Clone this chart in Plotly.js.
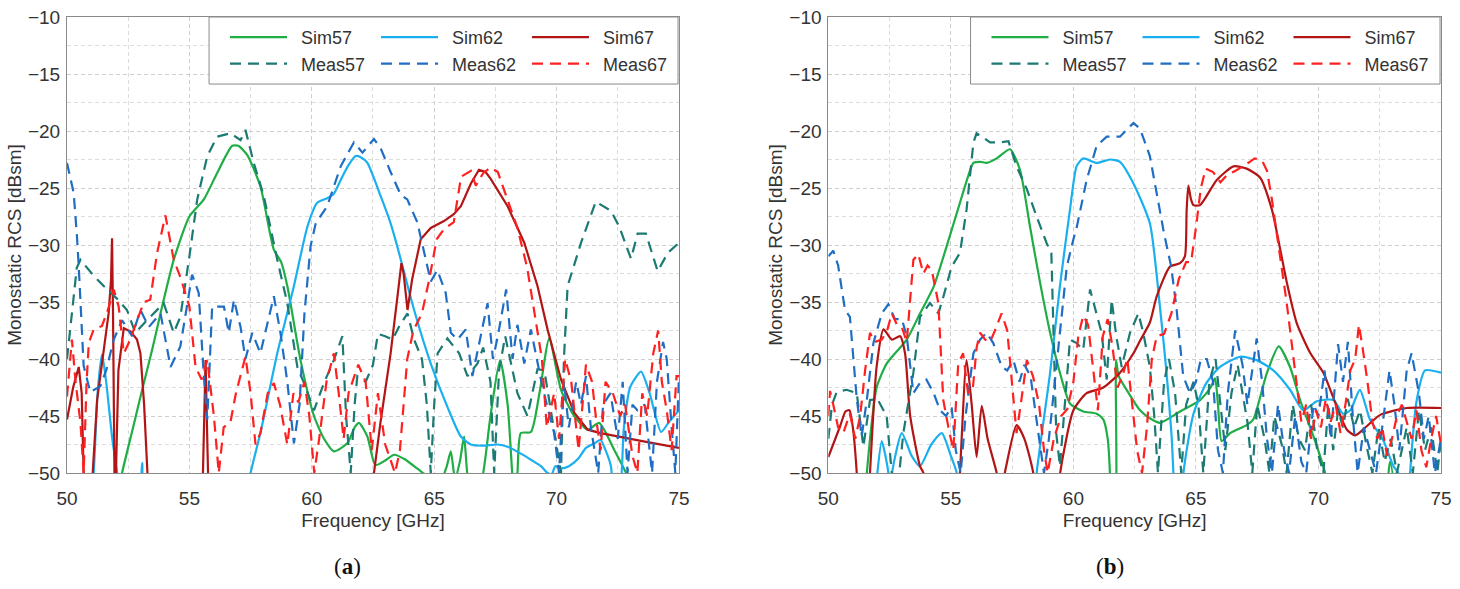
<!DOCTYPE html>
<html>
<head>
<meta charset="utf-8">
<script src="https://cdn.plot.ly/plotly-3.0.1.min.js"></script>
<style>
html,body{margin:0;padding:0;background:#fff;}
#chart{width:1460px;height:589px;}
</style>
</head>
<body>
<div id="chart"></div>
<script>
// ---------- Panel (a) ----------
const a_sim57_f = [52.0,52.25,52.7,53.14,53.5,53.82,54.36,55.0,55.59,56.13,56.75,57.0,57.36,57.9,58.45,58.75,59.0,59.54,60.09,60.5,60.9,61.45,61.75,61.93,62.27,62.6,63.0,63.36,63.8,64.3,64.86,65.2,65.5,65.68,65.85,66.05,66.22,66.35,66.6,67.0,67.3,67.69,68.0,68.27,68.4,68.54,68.95,69.3,69.7,70.18,70.72,71.27,71.74,72.36,72.84,73.2];
const a_sim57_v = [-53,-50,-46,-42.1,-39,-36.0,-31.3,-27.5,-26.0,-23.7,-21.3,-21.3,-22.1,-24.85,-30.4,-31.5,-33.6,-40.1,-45.0,-47,-48.1,-47.4,-46,-45.6,-46.8,-49.3,-48.9,-48.4,-48.8,-49.6,-50.5,-51,-49.5,-48.1,-50.5,-49,-46.8,-50,-53,-50,-45,-40.1,-44,-52,-50,-46.5,-46.4,-43,-38.2,-42.7,-45.0,-46.2,-45.6,-48.0,-50,-52];

const a_sim62_f = [50.95,51.09,51.25,51.43,51.6,51.85,52.05,52.2,52.9,53.07,53.25,57.3,57.5,57.9,58.59,59.27,59.82,60.22,60.63,60.9,61.18,61.5,61.79,62.0,62.27,62.81,63.22,63.49,64.18,64.86,65.54,66.09,66.5,67.0,67.59,68.0,68.54,69.0,69.36,69.63,69.8,69.95,70.2,70.5,70.9,71.2,71.54,71.8,72.0,72.22,72.35,72.55,72.75,73.0,73.45,73.8,74.27,74.6,75.0];
const a_sim62_v = [-53,-50,-43,-39.6,-42,-47,-50,-53,-53,-49.1,-53,-53,-50,-46.5,-39.5,-33.6,-28.4,-26.3,-25.9,-25.5,-24.3,-23,-22.2,-22.3,-22.8,-25.7,-28.1,-30.1,-35.7,-40.4,-44.2,-46.8,-47.5,-47.6,-47.5,-47.7,-48.3,-48.9,-49.4,-50,-50.1,-49.4,-49.6,-49.4,-48.7,-47.8,-47.4,-47.1,-48,-49.4,-52,-52,-46,-42.5,-41.1,-43,-46.4,-45.5,-44.5];

const a_sim67_f = [50.0,50.25,50.48,50.6,50.68,50.75,51.0,51.05,51.23,51.5,51.7,51.8,51.84,51.88,51.93,51.96,52.0,52.1,52.32,52.6,52.86,53.0,53.15,53.3,53.4,55.5,55.58,55.66,55.74,55.82,62.2,62.54,62.81,63.22,63.5,63.66,63.75,63.91,64.1,64.45,64.86,65.4,65.8,66.09,66.5,66.83,67.1,67.31,68.0,68.68,69.22,69.63,70.18,70.72,71.27,71.8,73.5,75.0];
const a_sim67_v = [-45.3,-42.5,-40.7,-43,-50,-55,-55,-50,-43.6,-39,-36,-33,-29.4,-36,-50,-55,-50,-41,-37.3,-37.6,-38.3,-39.5,-44,-50,-55,-55,-48,-40.1,-48,-55,-55,-50,-45.5,-39.5,-34.5,-31.6,-32.5,-35.7,-33,-29.5,-28.5,-27.9,-27.3,-26.6,-24.6,-23.4,-23.6,-24.2,-26.6,-29.8,-33.6,-37.4,-41.8,-44.7,-46.2,-46.5,-47.2,-47.8];

const a_meas57_f = [50.0,50.2,50.4,50.55,51.09,51.5,52.04,52.45,52.79,53.27,53.95,54.36,54.63,55.0,55.32,55.73,56.13,56.68,57.09,57.29,57.63,58.04,58.59,59.0,59.41,59.68,60.09,60.5,60.9,61.25,61.4,61.59,61.75,61.86,62.2,62.5,62.7,63.0,63.3,63.6,63.91,64.18,64.5,64.7,64.86,65.0,65.14,65.54,66.02,66.36,66.77,67.0,67.3,67.45,67.65,67.9,68.1,68.4,68.81,69.0,69.22,69.5,69.8,70.0,70.18,70.3,70.45,71.0,71.6,72.22,72.56,73.04,73.31,73.65,74.13,74.54,75.0];
const a_meas57_v = [-40.0,-36,-32,-31.3,-32.7,-33.6,-34.7,-35.7,-37.7,-36.6,-35.1,-37.7,-36.3,-31.0,-26.0,-22.2,-20.5,-20.2,-20.8,-19.9,-22.8,-25.7,-31.3,-35.1,-40.7,-42.1,-44.5,-42.1,-40.1,-38.0,-45,-50,-44,-41.5,-42,-40.5,-37.8,-38.0,-38.3,-37,-36.0,-38.3,-40,-44,-50,-44,-39.5,-38.2,-39.5,-41.5,-40.4,-39,-42,-50,-41,-38,-40,-43,-45.0,-43,-40.9,-41,-45,-48,-50,-40,-33.6,-29.8,-26.2,-27.0,-28.4,-31.2,-29.0,-29.0,-32.3,-30.7,-29.8];

const a_meas62_f = [50.0,50.27,50.4,50.48,50.68,50.95,51.36,51.6,51.91,52.25,52.66,53.0,53.34,53.82,54.23,54.63,55.11,55.38,55.59,55.73,55.93,56.41,56.61,56.82,57.09,57.29,57.57,57.9,58.45,58.72,59.0,59.27,59.5,59.7,59.95,60.16,60.63,61.18,61.72,62.07,62.54,62.81,63.22,63.63,63.9,64.31,64.86,65.13,65.47,65.68,65.95,66.29,66.56,66.9,67.18,67.4,67.6,67.94,68.2,68.4,68.68,68.95,69.36,69.6,69.9,70.1,70.3,70.5,70.8,71.0,71.2,71.4,71.7,71.9,72.2,72.5,72.7,72.9,73.1,73.3,73.6,73.9,74.1,74.35,74.5,74.7,74.85,75.0];
const a_meas62_v = [-22.8,-25.4,-29,-31.9,-40.6,-42.9,-42.4,-41,-38.3,-36.6,-38.0,-35.7,-37.2,-36.0,-40.7,-38.9,-32.6,-34.2,-41.5,-45.3,-35.4,-35.4,-37.7,-34.8,-37.2,-40.0,-37.7,-39.5,-34.5,-37.7,-42,-47.4,-44,-36,-30.1,-28.1,-26.6,-23.1,-21.0,-21.9,-20.7,-21.5,-23.6,-25.6,-26.0,-28.0,-33.2,-32.2,-34.2,-37.7,-38.3,-37.4,-41.5,-38,-35.1,-40,-38,-33.9,-40,-37,-40.4,-37.4,-41.8,-44,-46.5,-50,-42,-46,-42,-44,-41.5,-46,-50,-44,-43,-47,-42,-50,-44,-44.5,-44,-50,-42,-38.5,-40,-46,-50,-41.5];

const a_meas67_f = [50.0,50.2,50.35,50.55,50.68,50.8,50.89,51.09,51.43,51.7,51.91,52.11,52.32,52.52,52.8,53.14,53.4,53.68,54.02,54.36,54.63,55.0,55.25,55.5,55.73,56.0,56.2,56.4,56.68,56.9,57.29,57.5,57.7,57.9,58.2,58.45,58.7,59.0,59.25,59.45,59.7,59.9,60.1,60.3,60.6,60.9,61.1,61.3,61.5,61.9,62.2,62.45,62.7,63.0,63.4,63.6,63.9,64.15,64.5,64.8,65.1,65.4,65.8,66.1,66.5,66.7,67.0,67.3,67.6,68.0,68.4,68.8,69.1,69.4,69.6,69.9,70.1,70.35,70.6,70.9,71.2,71.45,71.6,71.8,72.0,72.3,72.6,72.8,73.1,73.3,73.5,73.7,73.95,74.15,74.3,74.5,74.7,74.9,75.0];
const a_meas67_v = [-43.3,-38.3,-42,-45.6,-50,-42,-38.6,-37.4,-37.1,-35.5,-33.9,-35.4,-39.5,-38.6,-37,-35.0,-34.8,-30.7,-27.4,-31.3,-32.8,-35.4,-40.7,-41.8,-40.1,-45,-50,-46,-45.5,-43,-39.8,-43,-47.5,-46.5,-43,-42.1,-44,-47.5,-43,-43.8,-42,-45,-50,-47,-42,-39.5,-43,-47,-43,-40.5,-42,-48,-43,-47.5,-50,-48,-40,-37.5,-36,-33,-29.5,-28.6,-28,-24,-23.5,-24.8,-23.7,-23.2,-23.6,-26,-28.5,-32,-36,-40,-46,-43,-47,-40,-42,-48,-40.5,-42,-45,-48,-42,-43,-45,-44,-48.5,-50,-43,-45,-39.5,-37.5,-42,-44.5,-48,-41.5,-41.5];

// ---------- Panel (b) ----------
const b_sim57_f = [51.45,51.57,51.75,51.97,52.38,53.2,53.74,54.29,54.83,55.37,55.7,55.92,56.2,56.46,56.87,57.41,57.82,58.23,58.64,59.05,59.45,59.86,60.4,60.95,61.22,61.4,61.49,61.55,61.68,61.74,61.85,62.17,62.72,63.12,63.53,64.35,65.17,65.6,65.78,65.9,66.05,66.4,67.07,67.34,67.9,68.38,68.84,69.25,69.8,70.27,70.4,72.6,72.92,73.2];
const b_sim57_v = [-53,-50,-46,-42.5,-40.4,-38.3,-36.0,-33.7,-30.1,-26.3,-24,-22.8,-22.7,-22.8,-22.4,-21.6,-23.4,-28.4,-33.3,-37.7,-41.2,-43.9,-44.6,-44.8,-45.3,-47,-50,-56,-56,-40.1,-41.5,-42.7,-44.5,-45.2,-45.6,-44.6,-43.6,-42.5,-41.7,-44,-47.2,-46.5,-45.8,-45.3,-41.2,-38.9,-40.7,-43.6,-46.8,-50,-53,-53,-49.0,-53];

const b_sim62_f = [51.9,52.0,52.18,52.45,52.52,52.55,52.6,53.0,53.4,53.74,54.2,54.63,55.0,55.24,55.35,58.4,58.5,59.05,59.45,59.86,60.13,60.4,60.95,61.49,61.9,62.45,63.12,63.53,63.8,64.0,64.08,64.15,64.4,64.49,64.9,65.43,65.98,66.8,67.48,68.16,68.84,69.38,69.93,70.61,71.0,71.3,71.69,72.1,72.64,73.06,73.26,73.35,73.65,73.74,74.01,74.35,75.0];
const b_sim62_v = [-53,-50,-47.2,-50,-53,-53,-50,-46.5,-48.5,-49.4,-47.5,-46.5,-48.5,-50,-53,-53,-50,-41.2,-33.6,-26.9,-23.1,-22.4,-22.8,-22.5,-22.7,-24.6,-28.1,-35.4,-41.2,-46.5,-50,-54,-54,-50,-44.8,-42.1,-40.7,-39.8,-40.1,-41.0,-42.7,-44.5,-43.7,-43.6,-44.8,-44.5,-42.7,-45.3,-47.1,-49.4,-50,-54,-54,-50,-43.6,-41.0,-41.2];

const b_sim67_f = [50.0,50.48,50.7,50.86,51.0,51.16,51.25,51.6,51.7,51.97,52.25,52.59,52.93,53.13,53.34,53.74,53.88,54.0,55.25,55.37,55.64,55.85,56.05,56.26,56.5,56.87,57.0,57.2,57.68,58.0,58.36,58.5,59.3,59.46,60.0,60.54,61.22,61.9,62.45,62.72,63.12,63.4,63.94,64.35,64.55,64.62,64.69,64.8,64.9,65.17,65.85,66.53,67.07,67.62,68.1,68.44,68.71,69.12,69.67,70.2,70.75,71.16,71.5,71.97,72.52,73.6,75.0];
const b_sim67_v = [-48.6,-45.9,-44.6,-44.5,-46,-50,-54,-54,-50,-40.7,-37.4,-38.3,-38.0,-39.5,-45.0,-49.4,-50,-54,-54,-50,-40.1,-44,-48.6,-44.1,-47,-50,-52,-50,-45.8,-47,-50,-54,-54,-50,-44.5,-43.0,-42.5,-41.2,-39.5,-38.4,-36.8,-34.5,-31.9,-31.6,-31.0,-27,-24.8,-26,-26.5,-26.5,-24.3,-23.1,-23.3,-24.1,-26.9,-30.4,-33.3,-36.9,-39.5,-41.2,-44.2,-46.2,-46.7,-45.9,-44.9,-44.3,-44.3];

const b_meas57_f = [50.0,50.15,50.34,50.75,51.16,51.43,51.7,52.0,52.38,52.59,52.8,53.06,53.47,53.74,54.15,54.49,54.7,55.03,55.37,55.64,55.92,56.05,56.33,56.6,57.0,57.35,57.68,58.1,58.5,58.9,59.1,59.18,59.3,59.45,59.66,59.86,60.13,60.4,60.68,60.95,61.15,61.36,61.56,61.75,61.97,62.31,62.65,62.85,63.12,63.3,63.45,63.7,63.9,64.15,64.4,64.6,64.9,65.1,65.3,65.55,65.8,66.0,66.2,66.45,66.7,66.9,67.1,67.3,67.5,67.8,68.0,68.2,68.5,68.7,68.95,69.2,69.45,69.7,69.95,70.2,70.4,70.6,70.8,71.0,71.2,71.45,71.7,71.95,72.2,72.45,72.7,72.95,73.2,73.4,73.6,73.85,74.1,74.35,74.6,74.85,75.0];
const b_meas57_v = [-47,-44,-42.9,-42.7,-43.0,-47.7,-43.6,-43.5,-45.0,-50,-52,-46.5,-41.2,-36.3,-35.1,-36.0,-34.5,-31.9,-30.7,-26.9,-21.0,-20.2,-20.6,-21.0,-21.0,-20.9,-23.1,-25.1,-27.5,-29.8,-30.7,-37.7,-46.5,-49.4,-43.6,-38.3,-38.6,-39.2,-33.9,-36.0,-37.7,-41.8,-34.8,-38,-40.7,-37.7,-36.0,-37.7,-40.7,-45,-50,-42,-40,-43,-50,-44,-42,-44,-50,-42,-40,-44,-48,-43,-40.5,-43,-45.5,-50,-44,-47,-50,-45,-47.5,-50,-44,-47,-48,-44,-48,-50,-44,-48,-44.5,-46,-43.5,-46,-44.5,-47.5,-50,-46,-49,-47,-50,-48,-46,-50,-44.5,-48,-46,-50,-47];

const b_meas62_f = [50.0,50.2,50.4,50.68,50.88,51.16,51.36,51.57,51.84,52.18,52.45,52.72,53.0,53.2,53.47,53.74,54.0,54.3,54.56,54.8,55.03,55.2,55.4,55.6,55.92,56.19,56.46,56.73,57.08,57.3,57.55,57.8,58.0,58.25,58.57,58.8,59.0,59.3,59.55,59.73,60.0,60.13,60.54,60.95,61.36,61.9,62.45,62.72,63.12,63.4,63.7,63.99,64.2,64.48,64.76,65.0,65.2,65.44,65.7,65.9,66.1,66.3,66.6,66.9,67.1,67.48,67.7,67.9,68.1,68.35,68.6,68.8,69.05,69.3,69.5,69.8,70.0,70.25,70.5,70.8,71.0,71.2,71.4,71.6,71.85,72.1,72.35,72.6,72.9,73.1,73.3,73.6,73.8,74.1,74.3,74.5,74.75,75.0];
const b_meas62_v = [-31,-30.5,-31.8,-35.7,-36.3,-43.5,-46.8,-43.6,-38.6,-36.0,-35.2,-36.5,-36.5,-38,-43.0,-42.1,-41.8,-43,-44.5,-45,-44.2,-48,-50,-45,-39.5,-38.3,-37.7,-38.6,-40.7,-41,-40.1,-42,-40.5,-41.5,-46.5,-50,-47,-41,-36,-31.9,-29.5,-28.5,-24.3,-21.3,-20.5,-20.5,-19.3,-19.8,-22.2,-25.4,-29,-31.9,-35.4,-41.5,-43,-42,-40,-40.0,-42,-48,-50,-43,-37.5,-40.5,-44,-38.2,-42,-47,-50,-44,-48,-50,-45,-49,-50,-44,-45,-41,-47,-38.7,-42,-38.5,-45,-50,-46,-48,-50,-46,-41,-44,-48,-41,-39.5,-43,-47,-45,-50,-47];

const b_meas67_f = [50.0,50.07,50.2,50.4,50.61,50.88,51.1,51.3,51.5,51.7,51.9,52.18,52.4,52.59,52.8,53.0,53.2,53.47,53.67,53.88,54.05,54.22,54.49,54.69,54.9,55.1,55.3,55.5,55.7,55.9,56.05,56.19,56.4,56.6,56.8,57.07,57.3,57.5,57.68,57.85,58.1,58.35,58.6,58.8,58.95,59.2,59.5,59.75,60.0,60.2,60.4,60.6,60.8,61.0,61.2,61.4,61.6,61.8,62.0,62.2,62.4,62.6,62.8,63.0,63.2,63.4,63.7,64.0,64.3,64.6,64.8,65.0,65.2,65.4,65.7,66.0,66.3,66.6,67.0,67.4,67.7,67.9,68.1,68.3,68.5,68.7,68.9,69.1,69.3,69.5,69.7,69.9,70.1,70.3,70.5,70.7,70.9,71.1,71.3,71.5,71.65,71.8,72.0,72.2,72.4,72.6,72.8,73.0,73.2,73.4,73.6,73.8,74.0,74.2,74.4,74.6,74.8,75.0];
const b_meas67_v = [-45,-42.8,-44,-46,-46.5,-44.8,-47,-45,-41,-37.7,-38.5,-38.3,-37.5,-36.0,-37,-37.2,-38.5,-31.3,-30.8,-32.5,-31.8,-32.2,-35.1,-43.6,-46,-48,-40.4,-39.5,-43,-42.5,-39,-37.7,-38.3,-38.5,-37.5,-36.0,-37.5,-42,-46.5,-44,-40.1,-41.5,-44,-48,-50,-47,-45,-44.4,-42,-38,-36.2,-37,-41,-44.5,-38,-36.5,-39,-42.5,-41.5,-40,-44,-48,-50,-46,-40,-38,-37.8,-36,-33,-31.5,-31.5,-28.5,-25,-23.3,-23.6,-24.5,-23.8,-23.5,-23.0,-22.4,-22.6,-23.5,-26,-29,-32,-35,-38.5,-42,-45.5,-44,-47,-44.5,-46,-43.5,-45.5,-44,-46.5,-44,-41,-40,-37,-39,-42,-45.5,-47,-46,-48.5,-47,-45,-44,-45.5,-47,-44.5,-48,-49.5,-47,-45,-47.5];

// ---------- Styling ----------
const names = ['Sim57','Sim62','Sim67','Meas57','Meas62','Meas67'];
const colors = ['#1fad45','#1ab0ef','#b21515','#1b7a72','#1f6ec4','#ff2020'];
const groups = ['57','62','67','57','62','67'];
const panelA = [[a_sim57_f,a_sim57_v],[a_sim62_f,a_sim62_v],[a_sim67_f,a_sim67_v],[a_meas57_f,a_meas57_v],[a_meas62_f,a_meas62_v],[a_meas67_f,a_meas67_v]];
const panelB = [[b_sim57_f,b_sim57_v],[b_sim62_f,b_sim62_v],[b_sim67_f,b_sim67_v],[b_meas57_f,b_meas57_v],[b_meas62_f,b_meas62_v],[b_meas67_f,b_meas67_v]];

const traces = [];
function addPanel(series, xa, ya, leg, pfx, sharp){
  series.forEach((s,i)=>{
    const isSim = i < 3;
    const useSpline = isSim && sharp.indexOf(i) < 0;
    traces.push({
      x: s[0], y: s[1], type:'scatter', mode:'lines', name: '\u2002' + names[i],
      xaxis: xa, yaxis: ya, legend: leg, legendgroup: pfx+groups[i],
      line: {color: colors[i], width: 2.2, dash: isSim ? 'solid' : '11px,7px',
             shape: useSpline ? 'spline' : 'linear', smoothing: 0.6},
      hoverinfo:'skip'
    });
  });
}
addPanel(panelA,'x','y','legend','a',[2]);
addPanel(panelB,'x2','y2','legend2','b',[]);

const fontFam = '"Liberation Sans", Arial, Helvetica, sans-serif';
function xax(domain, anchor){
  return {domain: domain, anchor: anchor, range:[50,75], dtick:5, tick0:50,
    showgrid:true, gridcolor:'#cfcfcf', griddash:'4px,3px', gridwidth:1,
    minor:{dtick:2.5, showgrid:true, gridcolor:'#dcdcdc', griddash:'4px,3px', gridwidth:1},
    showline:true, mirror:true, linecolor:'#8a8a8a', linewidth:1,
    ticks:'', zeroline:false, ticklabelstandoff:8,
    tickfont:{family:fontFam, size:19, color:'#333'},
    title:{text:'Frequency [GHz]', font:{family:fontFam, size:19, color:'#333'}, standoff:5}};
}
function yax(anchor){
  return {domain:[0,1], anchor: anchor, range:[-50,-10], dtick:5, tick0:-50,
    showgrid:true, gridcolor:'#cfcfcf', griddash:'4px,3px', gridwidth:1,
    minor:{dtick:2.5, showgrid:true, gridcolor:'#dcdcdc', griddash:'4px,3px', gridwidth:1},
    showline:true, mirror:true, linecolor:'#8a8a8a', linewidth:1,
    ticks:'', zeroline:false, ticklabelstandoff:2,
    tickfont:{family:fontFam, size:19, color:'#333'},
    title:{text:'Monostatic RCS [dBsm]', font:{family:fontFam, size:19, color:'#333'}, standoff:1}};
}
function leg(xl){
  return {x:xl, xanchor:'left', y:0.9956, yanchor:'top', orientation:'h',
    traceorder:'grouped', bgcolor:'rgba(0,0,0,0)', borderwidth:0,
    font:{family:fontFam, size:18, color:'#333'}, itemwidth:57, entrywidth:79,
    tracegroupgap:0, itemclick:false, itemdoubleclick:false};
}
const dA = [0, 0.4454], dB = [0.5541, 1];
function legendFrame(x0, x1){
  return {type:'rect', xref:'paper', yref:'paper', x0:x0, x1:x1, y0:0.853, y1:1,
    fillcolor:'#ffffff', line:{color:'#8a8a8a', width:1}, layer:'above'};
}
const layout = {
  width:1460, height:589,
  margin:{l:67, r:19, t:17, b:116},
  paper_bgcolor:'#fff', plot_bgcolor:'#fff',
  showlegend:true,
  xaxis: xax(dA,'y'), yaxis: yax('x'),
  xaxis2: xax(dB,'y2'), yaxis2: yax('x2'),
  legend: leg(0.115), legend2: leg(0.6692),
  shapes:[legendFrame(0.1034, 0.4447), legendFrame(0.6576, 0.9993)],
  annotations:[
    {text:'(<b>a</b>)', xref:'paper', yref:'paper', x:0.2045, y:-0.2057, xanchor:'center', yanchor:'middle', showarrow:false,
     font:{family:'"Liberation Serif", "DejaVu Serif", serif', size:23, color:'#111'}},
    {text:'(<b>b</b>)', xref:'paper', yref:'paper', x:0.759, y:-0.2057, xanchor:'center', yanchor:'middle', showarrow:false,
     font:{family:'"Liberation Serif", "DejaVu Serif", serif', size:23, color:'#111'}}
  ]
};
Plotly.newPlot('chart', traces, layout, {staticPlot:true, displayModeBar:false});
</script>
</body>
</html>
